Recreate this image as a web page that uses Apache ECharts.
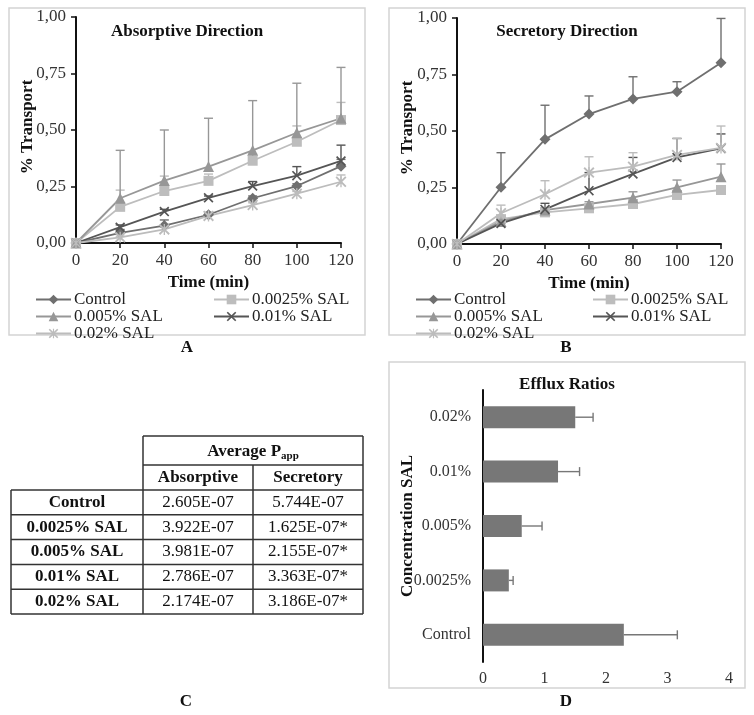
<!DOCTYPE html>
<html><head><meta charset="utf-8">
<script src="https://cdn.jsdelivr.net/npm/echarts@6/dist/echarts.min.js"></script>
<style>html,body{margin:0;padding:0;background:#fff}#c{width:754px;height:715px}</style>
</head><body><div id="c"></div>
<script>
// ---------- DATA ----------
const times = [0, 20, 40, 60, 80, 100, 120];
const seriesNames = ['Control', '0.0025% SAL', '0.005% SAL', '0.01% SAL', '0.02% SAL'];
const yTicks = [0, 0.25, 0.5, 0.75, 1];

// Panel A – Absorptive direction (% transport)
const absControl = [0, 0.045, 0.077, 0.125, 0.198, 0.252, 0.340];
const absControlErr = [0, 0.015, 0.025, 0.010, 0.010, 0.010, 0.030];
const abs0025 = [0, 0.160, 0.230, 0.275, 0.364, 0.448, 0.544];
const abs0025Err = [0, 0.074, 0.066, 0.030, 0.030, 0.070, 0.078];
const abs005 = [0, 0.198, 0.276, 0.338, 0.410, 0.488, 0.552];
const abs005Err = [0, 0.212, 0.224, 0.214, 0.220, 0.219, 0.225];
const abs001 = [0, 0.070, 0.139, 0.200, 0.252, 0.298, 0.363];
const abs001Err = [0, 0.010, 0.010, 0.008, 0.020, 0.040, 0.070];
const abs002 = [0, 0.025, 0.060, 0.120, 0.168, 0.218, 0.271];
const abs002Err = [0, 0.005, 0.010, 0.010, 0.010, 0.010, 0.030];

// Panel B – Secretory direction (% transport)
const secControl = [0, 0.251, 0.463, 0.575, 0.642, 0.674, 0.802];
const secControlErr = [0, 0.153, 0.151, 0.080, 0.098, 0.044, 0.196];
const sec0025 = [0, 0.110, 0.140, 0.158, 0.177, 0.217, 0.239];
const sec0025Err = [0, 0.010, 0.010, 0.010, 0.010, 0.010, 0.010];
const sec005 = [0, 0.100, 0.150, 0.177, 0.205, 0.251, 0.298];
const sec005Err = [0, 0.010, 0.010, 0.010, 0.026, 0.032, 0.056];
const sec001 = [0, 0.091, 0.153, 0.236, 0.310, 0.383, 0.423];
const sec001Err = [0, 0.010, 0.027, 0.080, 0.073, 0.084, 0.064];
const sec002 = [0, 0.136, 0.220, 0.316, 0.342, 0.394, 0.425];
const sec002Err = [0, 0.036, 0.060, 0.070, 0.062, 0.073, 0.097];

// Panel C – table
const tableGroups = ['Control', '0.0025% SAL', '0.005% SAL', '0.01% SAL', '0.02% SAL'];
const tableAbsorptive = ['2.605E-07', '3.922E-07', '3.981E-07', '2.786E-07', '2.174E-07'];
const tableSecretory = ['5.744E-07', '1.625E-07*', '2.155E-07*', '3.363E-07*', '3.186E-07*'];

// Panel D – efflux ratios
const effluxCats = ['Control', '0.0025%', '0.005%', '0.01%', '0.02%'];
const effluxValues = [2.29, 0.42, 0.63, 1.22, 1.50];
const effluxErr = [0.87, 0.07, 0.33, 0.35, 0.29];
const effluxTicks = [0, 1, 2, 3, 4];

// ---------- STYLE ----------
const FF = 'Liberation Serif';
const FS = 17;
const XPATH = 'path://M0,1.2L1.2,0L5,3.8L8.8,0L10,1.2L6.2,5L10,8.8L8.8,10L5,6.2L1.2,10L0,8.8L3.8,5Z';
const STARPATH = 'path://M0,1.2L1.2,0L5,3.8L8.8,0L10,1.2L6.2,5L10,8.8L8.8,10L5,6.2L1.2,10L0,8.8L3.8,5Z M4.4,0L5.6,0L5.6,10L4.4,10Z';
const styleMap = {
  'Control': {color: '#6f6f6f', symbol: 'diamond', size: 11},
  '0.0025% SAL': {color: '#bdbdbd', symbol: 'rect', size: 10},
  '0.005% SAL': {color: '#979797', symbol: 'triangle', size: 11},
  '0.01% SAL': {color: '#555555', symbol: XPATH, size: 10},
  '0.02% SAL': {color: '#bcbcbc', symbol: STARPATH, size: 11}
};

const absSets = [[absControl, absControlErr], [abs0025, abs0025Err], [abs005, abs005Err], [abs001, abs001Err], [abs002, abs002Err]];
const secSets = [[secControl, secControlErr], [sec0025, sec0025Err], [sec005, sec005Err], [sec001, sec001Err], [sec002, sec002Err]];

function errSeries(idx, vals, errs, color) {
  return {
    type: 'custom', xAxisIndex: idx, yAxisIndex: idx, silent: true, z: 1,
    data: times.map((t, i) => [t, vals[i], errs[i]]),
    renderItem: function (params, api) {
      const e = api.value(2);
      if (!e) return null;
      const p0 = api.coord([api.value(0), api.value(1)]);
      const p1 = api.coord([api.value(0), api.value(1) + e]);
      const st = {stroke: color, lineWidth: 1.4};
      return {type: 'group', children: [
        {type: 'line', shape: {x1: p0[0], y1: p0[1], x2: p1[0], y2: p1[1]}, style: st},
        {type: 'line', shape: {x1: p1[0] - 4.5, y1: p1[1], x2: p1[0] + 4.5, y2: p1[1]}, style: st}
      ]};
    }
  };
}
function lineSeries(idx, name, vals) {
  const s = styleMap[name];
  return {
    type: 'line', name: name, xAxisIndex: idx, yAxisIndex: idx, z: 3,
    data: times.map((t, i) => [t, vals[i]]),
    symbol: s.symbol, symbolSize: s.size, showAllSymbol: true,
    itemStyle: {color: s.color}, lineStyle: {color: s.color, width: 1.8}
  };
}

const series = [];
[absSets, secSets].forEach((sets, gi) => {
  sets.forEach((pair, k) => series.push(errSeries(gi, pair[0], pair[1], styleMap[seriesNames[k]].color)));
  sets.forEach((pair, k) => series.push(lineSeries(gi, seriesNames[k], pair[0])));
});
series.push({
  type: 'bar', xAxisIndex: 2, yAxisIndex: 2, barWidth: 22, z: 2,
  data: effluxValues, itemStyle: {color: '#777777'}
});
series.push({
  type: 'custom', xAxisIndex: 2, yAxisIndex: 2, silent: true, z: 3,
  data: effluxValues.map((v, i) => [v, i, effluxErr[i]]),
  renderItem: function (params, api) {
    const p0 = api.coord([api.value(0), api.value(1)]);
    const p1 = api.coord([api.value(0) + api.value(2), api.value(1)]);
    const st = {stroke: '#777777', lineWidth: 1.4};
    return {type: 'group', children: [
      {type: 'line', shape: {x1: p0[0], y1: p0[1], x2: p1[0], y2: p1[1]}, style: st},
      {type: 'line', shape: {x1: p1[0], y1: p1[1] - 4.5, x2: p1[0], y2: p1[1] + 4.5}, style: st}
    ]};
  }
});

const axisLine = {lineStyle: {color: '#111', width: 2}};
const axisTick = {lineStyle: {color: '#111', width: 1.5}, length: 5};
const fmt = v => v.toFixed(2).replace('.', ',');
function timeAxis(gi) {
  return {gridIndex: gi, type: 'value', min: times[0], max: times[times.length - 1], interval: 20,
    axisLine: axisLine, axisTick: axisTick, splitLine: {show: false},
    axisLabel: {fontFamily: FF, fontSize: FS, color: '#333', margin: 9},
    name: 'Time (min)', nameLocation: 'middle', nameGap: 31,
    nameTextStyle: {fontFamily: FF, fontSize: FS, fontWeight: 'bold', color: '#111'}};
}
function pctAxis(gi) {
  return {gridIndex: gi, type: 'value', min: yTicks[0], max: yTicks[yTicks.length - 1], interval: 0.25,
    axisLine: {show: true, lineStyle: {color: '#111', width: 2}}, axisTick: {show: true, lineStyle: {color: '#111', width: 1.5}, length: 5},
    splitLine: {show: false},
    axisLabel: {fontFamily: FF, fontSize: FS, color: '#333', margin: 10, formatter: fmt}};
}

// ---------- GRAPHIC (boxes, titles, labels, table) ----------
const graphic = [];
const boxStyle = {fill: 'none', stroke: '#d4d4d4', lineWidth: 1.5};
[[9, 8, 356, 327], [389, 8, 356, 327], [389, 362, 356, 326]].forEach(b =>
  graphic.push({type: 'rect', shape: {x: b[0], y: b[1], width: b[2], height: b[3]}, style: boxStyle, z: -1}));
function txt(x, y, s, size, bold, align, rot) {
  graphic.push({type: 'text', x: x, y: y, rotation: rot || 0, style: {text: s, fontFamily: FF, fontSize: size,
    fontWeight: bold ? 'bold' : 'normal', fill: '#111', align: align || 'center', verticalAlign: 'middle'}});
}
txt(187, 32, 'Absorptive Direction', FS, true);
txt(567, 32, 'Secretory Direction', FS, true);
txt(567, 385, 'Efflux Ratios', FS, true);
txt(187, 348, 'A', FS, true);
txt(566, 348, 'B', FS, true);
txt(186, 702, 'C', FS, true);
txt(566, 702, 'D', FS, true);
txt(28, 127, '% Transport', FS, true, 'center', Math.PI / 2);
txt(408, 128, '% Transport', FS, true, 'center', Math.PI / 2);
txt(408, 526, 'Concentration SAL', FS, true, 'center', Math.PI / 2);

// table
const tx = [11, 143, 253, 363];
const ty = [436, 465, 490];
for (let i = 1; i <= tableGroups.length; i++) ty.push(490 + i * 24.8);
const ls = {stroke: '#333', lineWidth: 1.5};
function hl(x1, x2, y) { graphic.push({type: 'line', shape: {x1: x1, y1: y, x2: x2, y2: y}, style: ls}); }
function vl(x, y1, y2) { graphic.push({type: 'line', shape: {x1: x, y1: y1, x2: x, y2: y2}, style: ls}); }
hl(tx[1], tx[3], ty[0]);
hl(tx[1], tx[3], ty[1]);
for (let r = 2; r < ty.length; r++) hl(tx[0], tx[3], ty[r]);
vl(tx[0], ty[2], ty[ty.length - 1]);
vl(tx[1], ty[0], ty[ty.length - 1]);
vl(tx[2], ty[1], ty[ty.length - 1]);
vl(tx[3], ty[0], ty[ty.length - 1]);
graphic.push({type: 'text', x: (tx[1] + tx[3]) / 2, y: (ty[0] + ty[1]) / 2 + 1, style: {
  text: '{m|Average P}{s|app}', align: 'center', verticalAlign: 'middle',
  rich: {m: {fontFamily: FF, fontSize: FS, fontWeight: 'bold', fill: '#111', lineHeight: 20, verticalAlign: 'middle'},
         s: {fontFamily: FF, fontSize: 11, fontWeight: 'bold', fill: '#111', lineHeight: 20, verticalAlign: 'bottom', padding: [6, 0, 0, 0]}}
}});
txt((tx[1] + tx[2]) / 2, (ty[1] + ty[2]) / 2, 'Absorptive', FS, true);
txt((tx[2] + tx[3]) / 2, (ty[1] + ty[2]) / 2, 'Secretory', FS, true);
tableGroups.forEach((g, i) => {
  const cy = (ty[i + 2] + ty[i + 3]) / 2;
  txt((tx[0] + tx[1]) / 2, cy, g, FS, true);
  txt((tx[1] + tx[2]) / 2, cy, tableAbsorptive[i], FS, false);
  txt((tx[2] + tx[3]) / 2, cy, tableSecretory[i], FS, false);
});

function legend(names, left) {
  return {data: names, left: left, top: 291, orient: 'vertical', itemGap: 0, padding: 0,
    itemWidth: 35, itemHeight: 12, selectedMode: false,
    textStyle: {fontFamily: FF, fontSize: FS, color: '#222', lineHeight: 15, padding: [0, 0, 0, -2]}};
}
const col1 = [seriesNames[0], seriesNames[2], seriesNames[4]];
const col2 = [seriesNames[1], seriesNames[3]];

const option = {
  animation: false,
  backgroundColor: '#fff',
  grid: [
    {left: 76, top: 17, width: 265, height: 226},
    {left: 457, top: 18, width: 264, height: 226},
    {left: 483, top: 390, width: 246, height: 272}
  ],
  xAxis: [timeAxis(0), timeAxis(1), {
    gridIndex: 2, type: 'value', min: effluxTicks[0], max: effluxTicks[effluxTicks.length - 1], interval: 1,
    axisLine: axisLine, axisTick: axisTick, splitLine: {show: false},
    axisLabel: {fontFamily: FF, fontSize: 16, color: '#333', margin: 9}
  }],
  yAxis: [pctAxis(0), pctAxis(1), {
    gridIndex: 2, type: 'category', data: effluxCats,
    axisLine: axisLine, axisTick: {lineStyle: {color: '#111', width: 1.5}, length: 5},
    axisLabel: {fontFamily: FF, fontSize: 16, color: '#333', margin: 12}
  }],
  legend: [legend(col1, 35), legend(col2, 213), legend(col1, 415), legend(col2, 592)],
  graphic: graphic,
  series: series
};
const chart = echarts.init(document.getElementById('c'));
chart.setOption(option);
</script></body></html>
